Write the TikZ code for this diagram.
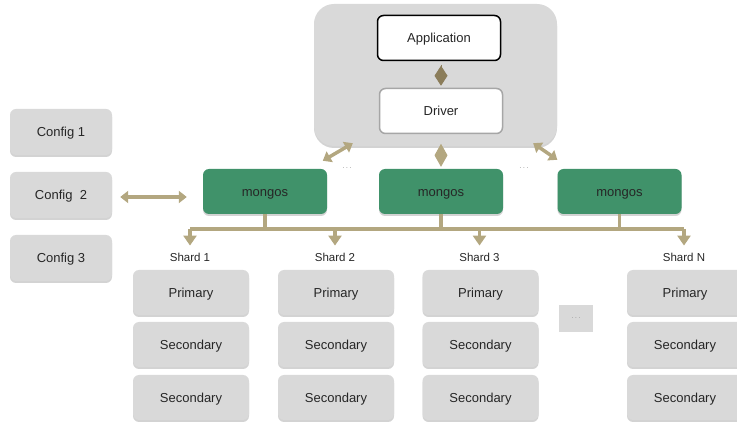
\documentclass[tikz,border=0pt]{standalone}
\usepackage{fontspec}
\setmainfont{Liberation Sans}
\usetikzlibrary{positioning,arrows.meta,shadows}
\definecolor{boxgray}{RGB}{217,217,217}
\definecolor{mongogreen}{RGB}{64,146,106}
\definecolor{linktan}{RGB}{179,167,128}
\definecolor{linkdark}{RGB}{139,125,90}
\definecolor{dotgray}{RGB}{160,160,160}
\begin{document}
\begin{tikzpicture}[x=1pt,y=-1pt,
  shadowed/.style={drop shadow={shadow xshift=0pt,shadow yshift=-2pt,opacity=0.35}},
  graybox/.style={rectangle,rounded corners=6pt,fill=boxgray,minimum width=116pt,minimum height=45pt,
    font=\fontsize{13}{15}\selectfont,text=black!85,text height=9.3pt,text depth=0pt,shadowed},
  configbox/.style={graybox,minimum width=102pt,minimum height=46pt},
  mongosbox/.style={graybox,fill=mongogreen,minimum width=124pt},
  whitebox/.style={rectangle,rounded corners=6pt,fill=white,line width=1.5pt,minimum width=123pt,
    minimum height=45pt,font=\fontsize{13}{15}\selectfont,text=black!85,text height=9.3pt,text depth=0pt},
  shardlabel/.style={font=\fontsize{11.5}{13}\selectfont,text=black!85,inner sep=1pt},
  dots/.style={font=\fontsize{8}{9}\selectfont,text=dotgray},
  link/.style={draw=linktan,line width=3.5pt,{Triangle[length=8pt,width=12pt]}-{Triangle[length=8pt,width=12pt]}},
  diamondlink/.style={line width=1pt,-{Diamond[length=#1,width=13pt]}},
  bus/.style={draw=linktan,line width=3.5pt},
  busarrow/.style={bus,-{Triangle[length=10pt,width=13pt]}}]
  \useasboundingbox (0,0) rectangle (737,438);

  % Client side: application and driver
  \node[rectangle,rounded corners=20pt,fill=boxgray,minimum width=243pt,minimum height=142pt,shadowed] (client) at (435.5,75) {};
  \node[whitebox,draw=black] (app) at (439,38) {Application};
  \node[whitebox,draw=black!35] (driver) at (441,111) {Driver};
  \draw[draw=linkdark,diamondlink=20pt,shorten <=3.5pt,shorten >=2pt] (driver.north |- app.south) -- (driver.north);

  % Routers
  \foreach \i/\x in {1/265,2/441,3/619.5} {
    \node[mongosbox] (mongos\i) at (\x,191.5) {mongos};
  }
  \node[dots] (dotsa) at (347,168) {.\,.\,.};
  \node[dots] (dotsb) at (524,168) {.\,.\,.};
  \draw[draw=linktan,diamondlink=23pt,shorten <=-3pt,shorten >=2pt] (mongos2.north |- client.south) -- (mongos2.north);
  \draw[link] ([xshift=39pt,yshift=3pt]client.south west) -- ([xshift=120pt,yshift=8pt]mongos1.north west);
  \draw[link] ([xshift=-24pt,yshift=3pt]client.south east) -- ([yshift=9pt]mongos3.north west);

  % Config servers
  \foreach \i/\y/\name in {1/132/Config 1,2/195/Config~~2,3/258/Config 3} {
    \node[configbox] (config\i) at (61,\y) {\name};
  }
  \draw[link] ([xshift=8pt,yshift=-2pt]config2.east) -- ([xshift=-16pt,yshift=-5.5pt]mongos1.west);

  % Shards
  \foreach \i/\x/\name in {1/191/Shard 1,2/336/Shard 2,3/480.5/Shard 3,4/685/Shard N} {
    \node[shardlabel] (shard\i) at (\x-1,257) {\name};
    \node[graybox] (primary\i) at (\x,292.5) {Primary};
    \node[graybox] (seconda\i) at (\x,344.5) {Secondary};
    \node[graybox] (secondb\i) at (\x,397.5) {Secondary};
  }
  \node[fill=boxgray,minimum width=34pt,minimum height=27pt,dots] (moreshards) at (576,318.5) {.\,.\,.};

  % Bus from routers to shards
  \coordinate (busy) at (0,229);
  \draw[bus] (shard1.north |- busy) -- (shard4.north |- busy);
  \foreach \i in {1,2,3} {
    \draw[bus] (mongos\i.south) -- (mongos\i.south |- busy);
  }
  \foreach \i in {1,2,3,4} {
    \draw[busarrow,shorten >=6pt] (shard\i.north |- busy) -- (shard\i.north);
  }
\end{tikzpicture}
\end{document}
